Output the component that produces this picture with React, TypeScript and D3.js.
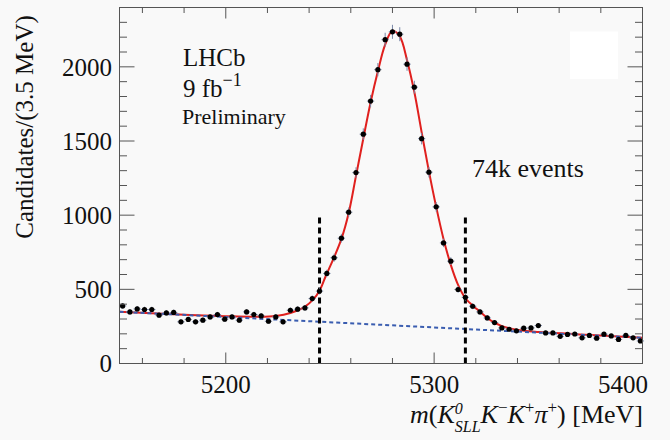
import React from "react";
import * as d3 from "d3";

// ---- data ----
const binStart = 5150.5; // first bin centre (MeV)
const binWidth = 3.5;
const counts = [
  388, 348, 368, 364, 364, 326, 341, 344, 281, 297,
  281, 292, 314, 330, 299, 314, 292, 348, 330, 321,
  285, 314, 281, 359, 366, 375, 438, 488, 607, 713,
  845, 1020, 1287, 1546, 1769, 1981, 2183, 2236, 2220, 2018,
  1863, 1516, 1290, 1056, 813, 690, 499, 446, 386, 348,
  307, 276, 240, 231, 220, 238, 240, 256, 206, 206,
  183, 196, 199, 173, 189, 171, 198, 186, 162, 189,
  173, 152,
];
const fitMass = [
  5149, 5175, 5200, 5215, 5224, 5231, 5238, 5242, 5245, 5248,
  5251.5, 5255.5, 5259, 5262.5, 5266, 5269.5, 5273, 5276.5, 5280, 5283.5,
  5287, 5290.5, 5294, 5297.5, 5301, 5304.5, 5308, 5311.5, 5315, 5319,
  5322, 5326, 5329, 5332, 5336, 5340, 5350, 5365, 5380, 5400,
];
const fitValue = [
  349, 332, 319, 315, 320, 340, 383, 432, 490, 590,
  700, 840, 1015, 1265, 1515, 1760, 1970, 2150, 2243, 2205,
  2045, 1830, 1560, 1295, 1055, 840, 665, 530, 440, 385,
  350, 302, 275, 255, 238, 226, 213, 200, 188, 173,
];
const bgMass = [5149, 5400];
const bgValue = [349, 173];
const windowEdges = [5245, 5315];
const windowHeight = 1000;
const xMajorTicks = [5200, 5300, 5400];
const yMajorTicks = [0, 500, 1000, 1500, 2000];

const W = 670;
const H = 440;
const L = 119.5, R = 642.5, T = 7.5, B = 363.5;
const FONT = "'Liberation Serif', 'Times New Roman', serif";

export default function App() {
  const x = d3.scaleLinear().domain([5149, 5400]).range([L, R]);
  const y = d3.scaleLinear().domain([0, 2400]).range([B, T]);

  const points = counts.map((c, i) => ({ m: binStart + i * binWidth, c }));
  const fitLine = d3
    .line<number>()
    .x((_, i) => x(fitMass[i]))
    .y((d) => y(d))
    .curve(d3.curveCatmullRom.alpha(0.5));
  const bgLine = d3
    .line<number>()
    .x((_, i) => x(bgMass[i]))
    .y((d) => y(d));

  const xMinor = d3.range(5160, 5400, 20).filter((v) => !xMajorTicks.includes(v));
  const yMinor = d3.range(100, 2400, 100).filter((v) => !yMajorTicks.includes(v));
  const axisColor = "#555";
  const errColor = "#7a88a8";

  return (
    <svg
      width={W}
      height={H}
      style={{ position: "absolute", left: 0, top: 0, background: "#f9f9f9" }}
      fontFamily={FONT}
    >
      <rect x={0} y={0} width={W} height={H} fill="#f9f9f9" />
      {/* white box */}
      <rect x={570} y={31.5} width={48} height={47.5} fill="#ffffff" />

      {/* fit */}
      <path d={fitLine(fitValue) || ""} fill="none" stroke="#e0201e" strokeWidth={2} />
      <path
        d={bgLine(bgValue) || ""}
        fill="none"
        stroke="#3a5db0"
        strokeWidth={2}
        strokeDasharray="4 3"
      />

      {/* signal window */}
      {windowEdges.map((m) => (
        <line
          key={m}
          x1={x(m)}
          x2={x(m)}
          y1={y(0)}
          y2={y(windowHeight)}
          stroke="#000"
          strokeWidth={3}
          strokeDasharray="6 4"
        />
      ))}

      {/* data */}
      {points.map((p, i) => {
        const e = Math.sqrt(p.c);
        return (
          <g key={i}>
            <line x1={x(p.m)} x2={x(p.m)} y1={y(p.c - e)} y2={y(p.c + e)} stroke={errColor} strokeWidth={1} />
            <line
              x1={x(p.m - binWidth / 2)}
              x2={x(p.m + binWidth / 2)}
              y1={y(p.c)}
              y2={y(p.c)}
              stroke={errColor}
              strokeWidth={1}
            />
            <circle cx={x(p.m)} cy={y(p.c)} r={2.6} fill="#000" />
          </g>
        );
      })}

      {/* frame */}
      <rect x={L} y={T} width={R - L} height={B - T} fill="none" stroke={axisColor} strokeWidth={1} />
      {xMajorTicks.map((v) => (
        <g key={"xM" + v}>
          <line x1={x(v)} x2={x(v)} y1={B} y2={B - 11} stroke={axisColor} />
          <line x1={x(v)} x2={x(v)} y1={T} y2={T + 11} stroke={axisColor} />
        </g>
      ))}
      {xMinor.map((v) => (
        <g key={"xm" + v}>
          <line x1={x(v)} x2={x(v)} y1={B} y2={B - 5.5} stroke={axisColor} />
          <line x1={x(v)} x2={x(v)} y1={T} y2={T + 5.5} stroke={axisColor} />
        </g>
      ))}
      {yMajorTicks.map((v) => (
        <g key={"yM" + v}>
          <line x1={L} x2={L + 15} y1={y(v)} y2={y(v)} stroke={axisColor} />
          <line x1={R} x2={R - 15} y1={y(v)} y2={y(v)} stroke={axisColor} />
        </g>
      ))}
      {yMinor.map((v) => (
        <g key={"ym" + v}>
          <line x1={L} x2={L + 7.5} y1={y(v)} y2={y(v)} stroke={axisColor} />
          <line x1={R} x2={R - 7.5} y1={y(v)} y2={y(v)} stroke={axisColor} />
        </g>
      ))}

      {/* tick labels */}
      {yMajorTicks.map((v) => (
        <text key={"yl" + v} x={112} y={y(v)} dy="0.35em" textAnchor="end" fontSize={25} fill="#111">
          {v}
        </text>
      ))}
      {xMajorTicks.map((v, i) => (
        <text
          key={"xl" + v}
          x={i === xMajorTicks.length - 1 ? 648 : x(v)}
          y={393}
          textAnchor={i === xMajorTicks.length - 1 ? "end" : "middle"}
          fontSize={25}
          fill="#111"
        >
          {v}
        </text>
      ))}

      {/* axis titles */}
      <text
        transform="translate(33,127) rotate(-90)"
        textAnchor="middle"
        fontSize={25}
        fill="#111"
      >
        Candidates/(3.5 MeV)
      </text>
      <text x={643} y={423} textAnchor="end" fontSize={26} fill="#111">
        <tspan fontStyle="italic">m</tspan>
        <tspan>(</tspan>
        <tspan fontStyle="italic">K</tspan>
        <tspan fontStyle="italic" fontSize={16} dy={-9}>0</tspan>
        <tspan fontStyle="italic" fontSize={16} dx={-8} dy={18}>SLL</tspan>
        <tspan fontStyle="italic" dy={-9}>K</tspan>
        <tspan fontSize={17} dy={-10}>−</tspan>
        <tspan fontStyle="italic" dy={10}>K</tspan>
        <tspan fontSize={17} dy={-10}>+</tspan>
        <tspan fontStyle="italic" dy={10}>π</tspan>
        <tspan fontSize={17} dy={-10}>+</tspan>
        <tspan dy={10}>) [MeV]</tspan>
      </text>

      {/* annotations */}
      <text x={183} y={66} fontSize={25} fill="#111">LHCb</text>
      <text x={183} y={97} fontSize={25} fill="#111">
        9 fb<tspan fontSize={18} dy={-11}>−1</tspan>
      </text>
      <text x={182} y={124} fontSize={22} fill="#111">Preliminary</text>
      <text x={472} y={177} fontSize={26} fill="#111">74k events</text>
    </svg>
  );
}
